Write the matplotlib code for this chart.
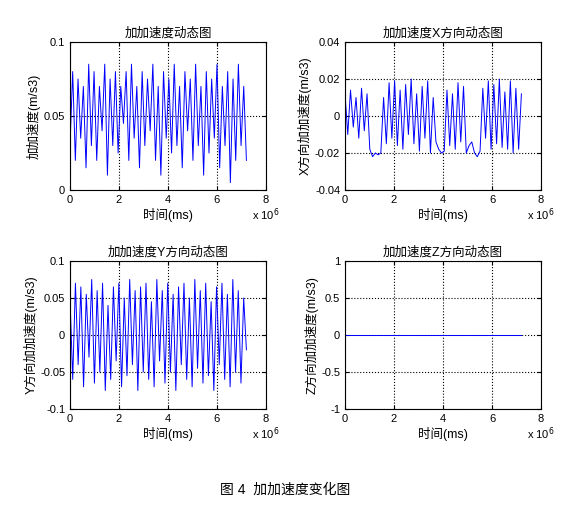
import matplotlib
matplotlib.use("Agg")
import matplotlib.pyplot as plt
import numpy as np

plt.rcParams["font.family"] = ["Liberation Sans", "Noto Sans CJK SC", "DejaVu Sans"]
plt.rcParams["axes.unicode_minus"] = False

# 采样时间终点 (ms)
t_end = 7.2e6

# 合成加加速度
jerk_total = [0.03, 0.08, 0.02, 0.075, 0.035, 0.07, 0.015, 0.085, 0.03, 0.08, 0.02, 0.07,
              0.04, 0.085, 0.01, 0.075, 0.03, 0.08, 0.025, 0.07, 0.045, 0.08, 0.02, 0.085,
              0.035, 0.07, 0.015, 0.08, 0.03, 0.075, 0.04, 0.085, 0.02, 0.07, 0.01, 0.08,
              0.035, 0.075, 0.025, 0.085, 0.03, 0.07, 0.015, 0.08, 0.04, 0.075, 0.02, 0.085,
              0.03, 0.07, 0.01, 0.08, 0.025, 0.075, 0.035, 0.085, 0.015, 0.07, 0.03, 0.08,
              0.005, 0.075, 0.02, 0.085, 0.03, 0.07, 0.02]
# X方向
jerk_x = [0.012, -0.01, 0.014, -0.006, 0.01, -0.012, 0.015, -0.008, 0.012, -0.018, -0.022,
          -0.02, -0.021, -0.02, 0.01, -0.015, 0.018, -0.012, 0.019, -0.016, 0.014, -0.018,
          0.017, -0.01, 0.02, -0.015, 0.012, -0.019, 0.016, -0.012, 0.019, -0.02, 0.01,
          -0.014, -0.018, -0.02, -0.019, 0.014, -0.016, 0.012, -0.018, 0.018, -0.014, 0.016,
          -0.02, -0.016, -0.014, -0.02, -0.022, -0.019, 0.015, -0.012, 0.019, -0.018, 0.017,
          -0.015, 0.02, -0.017, 0.013, -0.018, 0.019, -0.02, 0.015, -0.018, 0.012]
# Y方向
jerk_y = [0.05, -0.06, 0.07, -0.04, 0.065, -0.07, 0.055, -0.03, 0.075, -0.065, 0.06, -0.05,
          0.07, -0.075, 0.04, -0.06, 0.065, -0.035, 0.07, -0.07, 0.05, -0.055, 0.075, -0.04,
          0.06, -0.075, 0.065, -0.05, 0.07, -0.06, 0.045, -0.07, 0.075, -0.035, 0.06, -0.065,
          0.07, -0.05, 0.055, -0.075, 0.065, -0.04, 0.07, -0.06, 0.05, -0.07, 0.075, -0.045,
          0.06, -0.065, 0.07, -0.055, 0.045, -0.075, 0.065, -0.04, 0.07, -0.06, 0.055, -0.07,
          0.075, -0.05, 0.06, -0.065, 0.05, -0.02]
# Z方向
jerk_z = [0.0, 0.0]

panels = [
    (jerk_total, "加加速度动态图", "加加速度(m/s3)", (0, 0.1), [0, 0.05, 0.1]),
    (jerk_x, "加加速度X方向动态图", "X方向加加速度(m/s3)", (-0.04, 0.04),
     [-0.04, -0.02, 0, 0.02, 0.04]),
    (jerk_y, "加加速度Y方向动态图", "Y方向加加速度(m/s3)", (-0.1, 0.1),
     [-0.1, -0.05, 0, 0.05, 0.1]),
    (jerk_z, "加加速度Z方向动态图", "Z方向加加速度(m/s3)", (-1, 1),
     [-1, -0.5, 0, 0.5, 1]),
]

fig = plt.figure(figsize=(5.7, 5.13), dpi=100)
rects = [(70, 42), (345, 42), (70, 261), (345, 261)]
W, H = 570, 513

for (data, title, ylabel, ylim, yticks), (x0, y0) in zip(panels, rects):
    ax = fig.add_axes([x0 / W, 1 - (y0 + 148) / H, 196 / W, 148 / H])
    t = np.linspace(0, t_end, len(data))
    ax.plot(t, data, color="blue", linewidth=0.7)
    ax.set_xlim(0, 8e6)
    ax.set_ylim(*ylim)
    ax.set_xticks([0, 2e6, 4e6, 6e6, 8e6])
    ax.set_xticklabels(["0", "2", "4", "6", "8"])
    ax.set_yticks(yticks)
    ax.set_yticklabels([f"{v:g}" for v in yticks])
    ax.grid(True, color="black", linestyle=":", linewidth=0.8)
    ax.tick_params(direction="in", labelsize=8, length=3, top=True, right=True)
    ax.set_title(title, fontsize=9, pad=4)
    ax.set_xlabel("时间(ms)", fontsize=9, labelpad=2)
    ax.set_ylabel(ylabel, fontsize=9, labelpad=2)
    ax.text(1.0, -0.2, "x 10$^6$", transform=ax.transAxes, fontsize=8, ha="center")

fig.text(0.5, 1 - 490 / H, "图 4  加加速度变化图", ha="center", va="center", fontsize=10)

fig.savefig("out.png", dpi=100)
